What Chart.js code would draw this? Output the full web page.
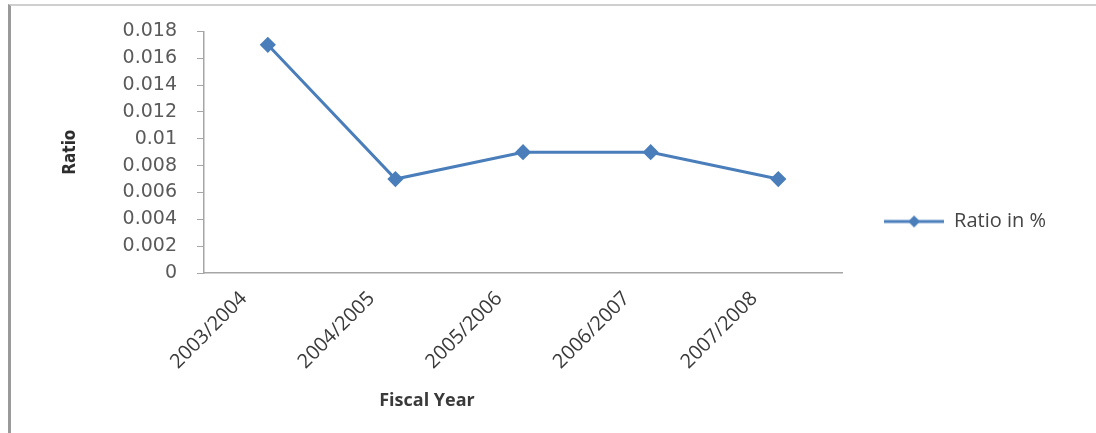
<!DOCTYPE html>
<html>
<head>
<meta charset="utf-8">
<script src="https://cdn.jsdelivr.net/npm/chart.js@4/dist/chart.umd.min.js"></script>
<style>
  html, body { margin: 0; padding: 0; background: #fff; }
  #wrap { position: relative; width: 1096px; height: 433px; overflow: hidden; }
  #frame {
    position: absolute; left: 8px; top: 4px; right: -4px; bottom: -4px;
    border-left: 3px solid #9a9a9a; border-top: 2px solid #cfcfcf;
  }
  canvas { position: absolute; left: 0; top: 0; }
</style>
</head>
<body>
<div id="wrap">
  <div id="frame"></div>
  <canvas id="chart" width="1096" height="433"></canvas>
</div>
<script>
const fiscalYears = ["2003/2004", "2004/2005", "2005/2006", "2006/2007", "2007/2008"];
const ratioValues = [0.017, 0.007, 0.009, 0.009, 0.007];
const seriesName = "Ratio in %";
const yMax = 0.018;
const yStep = 0.002;

const lineColor = "#4a7ebb";

// legend symbol: line with a diamond in the middle
const legendMark = document.createElement("canvas");
legendMark.width = 60;
legendMark.height = 14;
(() => {
  const c = legendMark.getContext("2d");
  c.strokeStyle = lineColor;
  c.lineWidth = 3;
  c.beginPath();
  c.moveTo(0, 7);
  c.lineTo(60, 7);
  c.stroke();
  c.fillStyle = lineColor;
  c.beginPath();
  c.moveTo(30, 1);
  c.lineTo(36, 7);
  c.lineTo(30, 13);
  c.lineTo(24, 7);
  c.closePath();
  c.fill();
})();

const xTitlePlugin = {
  id: "xTitle",
  afterDraw(chart) {
    const ctx = chart.ctx;
    ctx.save();
    ctx.font = "bold 18px 'Open Sans'";
    ctx.fillStyle = "#3a3a3a";
    ctx.textAlign = "center";
    ctx.textBaseline = "middle";
    ctx.fillText("Fiscal Year", 427, 401);
    ctx.restore();
  },
};

new Chart(document.getElementById("chart"), {
  type: "line",
  data: {
    labels: fiscalYears,
    datasets: [
      {
        label: seriesName,
        data: ratioValues,
        borderColor: lineColor,
        backgroundColor: lineColor,
        borderWidth: 3,
        pointStyle: "rectRot",
        pointRadius: 6,
        pointHoverRadius: 6,
        tension: 0,
      },
    ],
  },
  options: {
    responsive: false,
    animation: false,
    layout: { padding: { left: 0, top: 23, right: 40, bottom: 13 } },
    plugins: {
      tooltip: { enabled: false },
      legend: {
        position: "right",
        labels: {
          usePointStyle: true,
          pointStyle: legendMark,
          pointStyleWidth: 60,
          boxHeight: 14,
          padding: 42,
          color: "#454545",
          font: { family: "'Open Sans'", size: 20 },
        },
      },
    },
    scales: {
      x: {
        offset: true,
        afterFit(scale) {
          scale.height = 147;
        },
        grid: {
          display: true,
          drawOnChartArea: false,
          drawTicks: false,
          color: "#a6a6a6",
        },
        border: { color: "#a6a6a6", width: 1.5 },
        ticks: {
          autoSkip: false,
          maxRotation: 45,
          minRotation: 45,
          padding: 14,
          labelOffset: -24,
          color: "#3a3a3a",
          font: { family: "'Open Sans'", size: 20 },
        },
      },
      y: {
        min: 0,
        max: yMax,
        afterFit(scale) {
          scale.width = 204;
        },
        grid: {
          drawOnChartArea: false,
          drawTicks: true,
          tickLength: 7,
          color: "#a6a6a6",
        },
        border: { color: "#a6a6a6", width: 1.5 },
        ticks: {
          autoSkip: false,
          stepSize: yStep,
          padding: 20,
          color: "#5a5a5a",
          font: { family: "'DejaVu Sans'", size: 19 },
          callback(value) {
            return String(parseFloat(value.toFixed(3)));
          },
        },
        title: {
          display: true,
          text: "Ratio",
          color: "#2e2e2e",
          padding: { top: 60, bottom: 0 },
          font: { family: "'DejaVu Sans Condensed'", size: 17, weight: "bold" },
        },
      },
    },
  },
  plugins: [xTitlePlugin],
});
</script>
</body>
</html>
